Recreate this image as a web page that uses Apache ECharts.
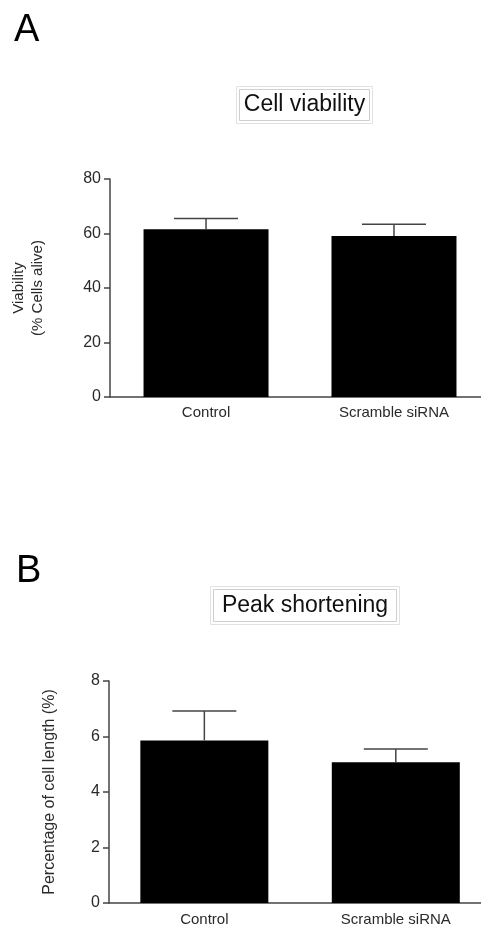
<!DOCTYPE html>
<html>
<head>
<meta charset="utf-8">
<script src="https://cdn.jsdelivr.net/npm/echarts@6/dist/echarts.min.js"></script>
<style>
html,body{margin:0;padding:0;background:#fff;}
#chart{width:481px;height:927px;}
</style>
</head>
<body>
<div id="chart"></div>
<script>
// ---- data ----
const categories = ['Control', 'Scramble siRNA'];
const viabilityMean = [61.6, 59.1];
const viabilityErr = [3.9, 4.3];
const shorteningMean = [5.86, 5.07];
const shorteningErr = [1.06, 0.48];
const viabilityAxis = { min: 0, max: 80, interval: 20 };
const shorteningAxis = { min: 0, max: 8, interval: 2 };
const panelTitles = ['Cell viability', 'Peak shortening'];
const yNames = ['Viability\n(% Cells alive)', 'Percentage of cell length (%)'];

const FONT = '"Liberation Sans", Arial, sans-serif';
const AXIS = '#444';
const TXT = '#2a2a2a';

const catIdx = categories.map((c, i) => i);
function barData(mean) { return mean.map((m, i) => [i, m]); }
function errData(mean, err) { return mean.map((m, i) => [i, m, m + err[i]]); }

function errSeries(idx, mean, err) {
  return {
    type: 'custom', xAxisIndex: idx, yAxisIndex: idx, z: 5,
    data: errData(mean, err),
    renderItem: function (params, api) {
      const base = api.coord([api.value(0), api.value(1)]);
      const top = api.coord([api.value(0), api.value(2)]);
      const half = 32;
      const st = { stroke: AXIS, lineWidth: 1.5 };
      return { type: 'group', children: [
        { type: 'line', shape: { x1: base[0], y1: base[1], x2: top[0], y2: top[1] }, style: st },
        { type: 'line', shape: { x1: top[0] - half, y1: top[1], x2: top[0] + half, y2: top[1] }, style: st }
      ]};
    }
  };
}
function xAxis(idx, min, max, margin) {
  return {
    type: 'value', gridIndex: idx, min: min, max: max,
    splitLine: { show: false },
    axisLine: { show: true, onZero: false, lineStyle: { color: AXIS, width: 1.5 } },
    axisTick: { show: false },
    axisLabel: {
      customValues: catIdx,
      formatter: function (v) { return categories[Math.round(v)] || ''; },
      color: TXT, fontSize: 15, fontFamily: FONT, margin: margin
    }
  };
}
function yAxis(idx, rng, name, gap, fs, lh) {
  return {
    type: 'value', gridIndex: idx, min: rng.min, max: rng.max, interval: rng.interval,
    name: name, nameLocation: 'middle', nameGap: gap,
    nameTextStyle: { color: TXT, fontSize: fs, fontFamily: FONT, lineHeight: lh },
    axisLine: { show: true, onZero: false, lineStyle: { color: AXIS, width: 1.5 } },
    axisTick: { show: true, length: 6, lineStyle: { color: AXIS, width: 1.5 } },
    splitLine: { show: false },
    axisLabel: { color: TXT, fontSize: 16, fontFamily: FONT, margin: 9 }
  };
}
function titleBox(x, y, w, h, text) {
  return { type: 'group', left: x, top: y, children: [
    { type: 'rect', shape: { x: 0, y: 0, width: w, height: h }, style: { fill: '#fff', stroke: '#e2e2e2', lineWidth: 1 } },
    { type: 'rect', shape: { x: 3, y: 3, width: w - 6, height: h - 6 }, style: { fill: '#fff', stroke: '#cfcfcf', lineWidth: 1 } },
    { type: 'text', x: w / 2, y: h / 2, style: { text: text, fill: '#111', font: '23px ' + FONT, align: 'center', verticalAlign: 'middle' } }
  ]};
}

const chart = echarts.init(document.getElementById('chart'), null, { renderer: 'canvas' });
chart.setOption({
  backgroundColor: '#fff',
  animation: false,
  grid: [
    { left: 110, top: 179, right: 0, height: 218 },
    { left: 109, top: 681, right: 0, height: 222 }
  ],
  xAxis: [xAxis(0, -0.511, 1.463, 8), xAxis(1, -0.498, 1.445, 9)],
  yAxis: [
    yAxis(0, viabilityAxis, yNames[0], 63, 15, 19),
    yAxis(1, shorteningAxis, yNames[1], 50, 16, 18)
  ],
  series: [
    { type: 'bar', xAxisIndex: 0, yAxisIndex: 0, data: barData(viabilityMean), barWidth: 125,
      itemStyle: { color: '#000' } },
    errSeries(0, viabilityMean, viabilityErr),
    { type: 'bar', xAxisIndex: 1, yAxisIndex: 1, data: barData(shorteningMean), barWidth: 128,
      itemStyle: { color: '#000' } },
    errSeries(1, shorteningMean, shorteningErr)
  ],
  graphic: [
    { type: 'text', left: 14, top: 12, style: { text: 'A', fill: '#000', font: '38px ' + FONT } },
    { type: 'text', left: 16, top: 553, style: { text: 'B', fill: '#000', font: '38px ' + FONT } },
    titleBox(236, 86, 136, 37, panelTitles[0]),
    titleBox(210, 586, 189, 38, panelTitles[1])
  ]
});
</script>
</body>
</html>
